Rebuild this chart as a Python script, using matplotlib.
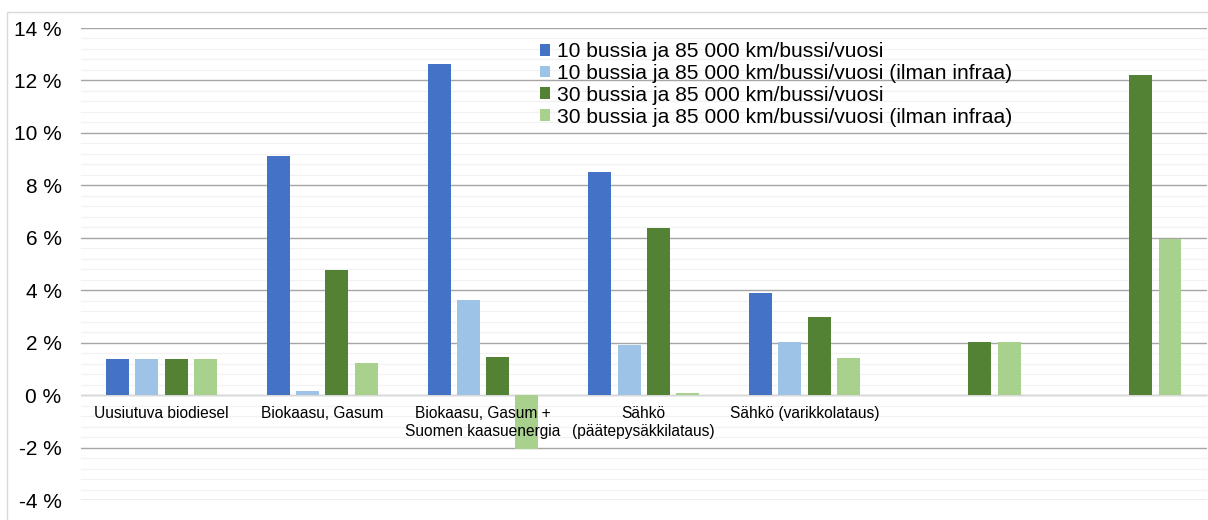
import matplotlib
matplotlib.use("Agg")
import matplotlib.pyplot as plt
from matplotlib.patches import Rectangle
from matplotlib.ticker import MultipleLocator, FuncFormatter
import numpy as np

plt.rcParams['font.family'] = ['Liberation Sans', 'DejaVu Sans']

categories = [
    "Uusiutuva biodiesel",
    "Biokaasu, Gasum",
    "Biokaasu, Gasum +\nSuomen kaasuenergia",
    "Sähkö\n(päätepysäkkilataus)",
    "Sähkö (varikkolataus)",
    "",
    "",
]
series_labels = [
    "10 bussia ja 85 000 km/bussi/vuosi",
    "10 bussia ja 85 000 km/bussi/vuosi (ilman infraa)",
    "30 bussia ja 85 000 km/bussi/vuosi",
    "30 bussia ja 85 000 km/bussi/vuosi (ilman infraa)",
]
buses10 = [1.37, 9.13, 12.62, 8.51, 3.90, 0.0, 0.0]
buses10_no_infra = [1.37, 0.16, 3.63, 1.91, 2.02, 0.0, 0.0]
buses30 = [1.37, 4.77, 1.45, 6.37, 2.98, 2.03, 12.21]
buses30_no_infra = [1.37, 1.23, -2.07, 0.08, 1.41, 2.03, 5.94]
colors = ["#4472C4", "#9DC3E6", "#548235", "#A9D18E"]

fig = plt.figure(figsize=(12.08, 5.2), dpi=100)
W, H = 1208, 520

# light chart-area border
fig.patches.append(Rectangle((7 / W, -0.1), 1.2, (1 - 12 / H) + 0.1,
                             transform=fig.transFigure, fill=False,
                             edgecolor="#D9D9D9", linewidth=1.0))

ax = fig.add_axes([81 / W, 1 - 500 / H, (1206.5 - 81) / W, (500 - 28) / H])

x = np.arange(len(categories))
pitch = 0.182
width = 0.143
all_series = [buses10, buses10_no_infra, buses30, buses30_no_infra]
for k, (vals, lab, col) in enumerate(zip(all_series, series_labels, colors)):
    ax.bar(x + (k - 1.5) * pitch, vals, width, color=col, label=lab,
           zorder=3, linewidth=0)

ax.set_xlim(-0.5, len(categories) - 0.5)
ax.set_ylim(-4, 14)
ax.yaxis.set_major_locator(MultipleLocator(2))
ax.yaxis.set_minor_locator(MultipleLocator(0.4))
ax.yaxis.set_major_formatter(FuncFormatter(lambda v, p: f"{v:.0f} %"))
ax.grid(axis="y", which="major", color="#A6A6A6", linewidth=1.0)
ax.grid(axis="y", which="minor", color="#F2F2F2", linewidth=0.9)
ax.tick_params(axis="y", which="both", length=0, pad=14, labelsize=15)

for s in ["top", "right", "left"]:
    ax.spines[s].set_visible(False)
ax.spines["bottom"].set_position(("data", 0))
ax.spines["bottom"].set_color("#D9D9D9")
ax.spines["bottom"].set_zorder(2)
ax.set_xticks(x)
ax.set_xticklabels(categories, fontsize=11.2, linespacing=1.2)
ax.tick_params(axis="x", length=0, pad=8)

# gridlines behind the bars, category labels on top of everything
ax.yaxis.set_zorder(0.5)
ax.xaxis.set_zorder(4)

leg = ax.legend(loc="upper left", bbox_to_anchor=(540 / W, 1 - 42 / H),
                bbox_transform=fig.transFigure, frameon=False, fontsize=15.1,
                handlelength=0.5, handleheight=0.5, handletextpad=0.3,
                labelspacing=0.14, borderpad=0, borderaxespad=0)
leg.set_zorder(5)

fig.savefig("out.png", dpi=100)
